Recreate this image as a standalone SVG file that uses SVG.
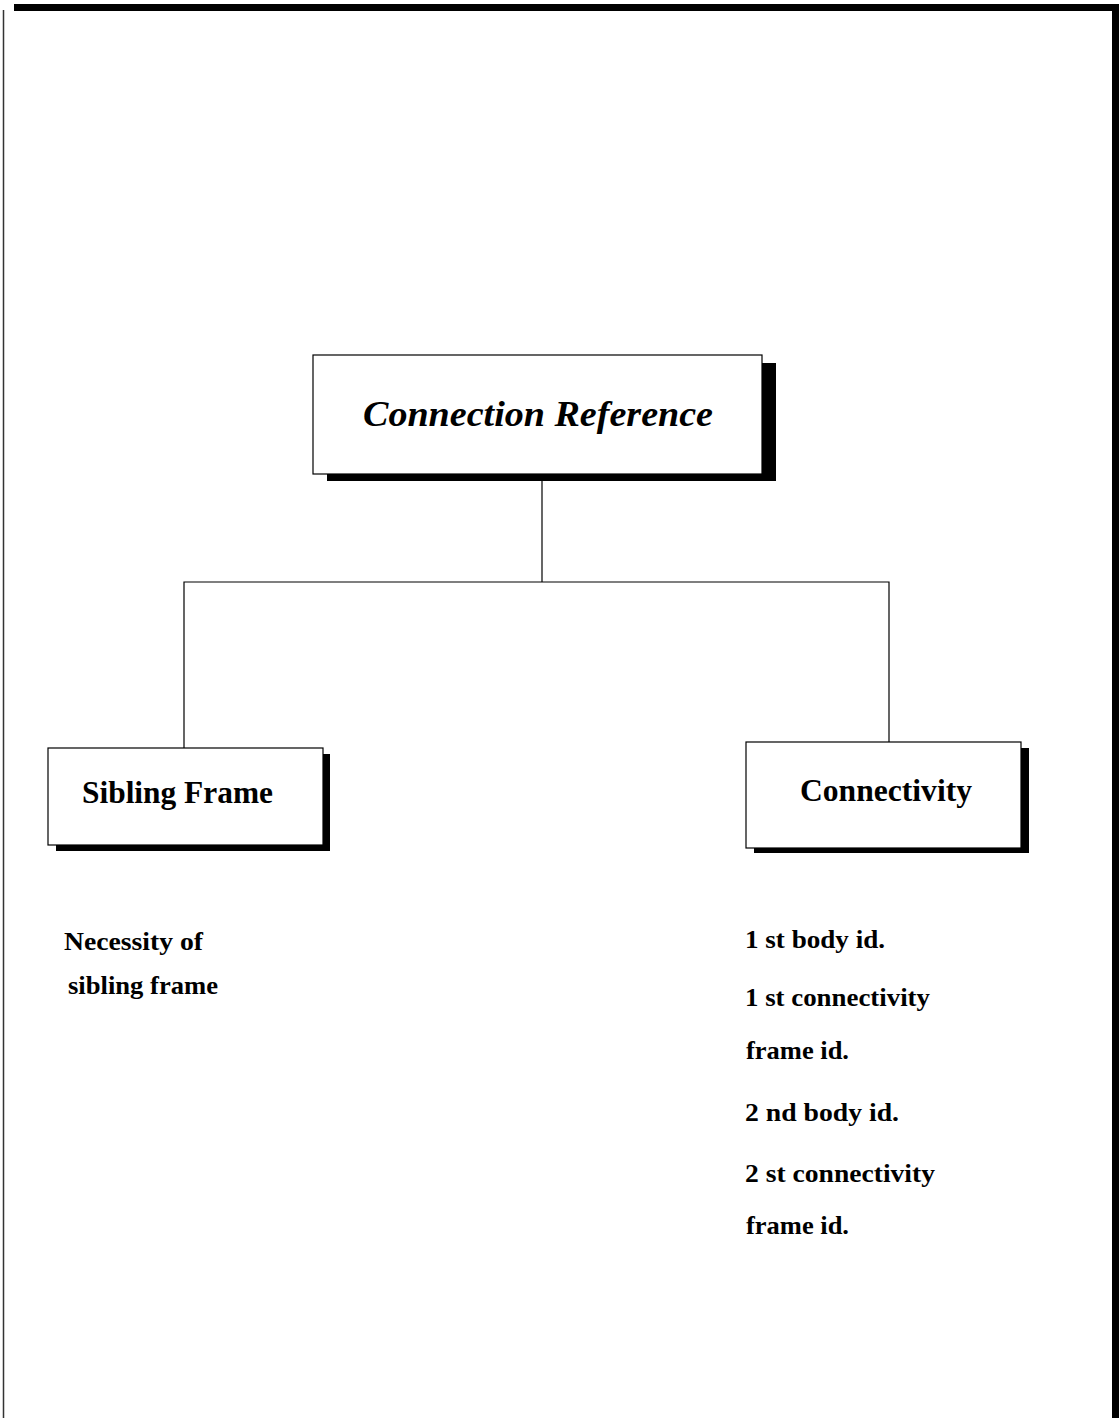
<svg xmlns="http://www.w3.org/2000/svg" width="1119" height="1418" viewBox="0 0 1119 1418">
<style>
.box{fill:#fff;stroke:#000;stroke-width:1.2}
.sh{fill:#000}
.t{font-family:"Liberation Serif","Times New Roman",serif;fill:#000;font-weight:bold}
.lbl{font-size:31px}
.note{font-size:25.5px}
.conn{stroke:#000;stroke-width:1.2;fill:none}
</style>
<rect width="1119" height="1418" fill="#fff"/>
<g id="page">
<rect x="14" y="4" width="1105" height="7" fill="#000"/>
<rect x="1112" y="4" width="7" height="1414" fill="#000"/>
<line x1="3.5" y1="10" x2="3.5" y2="1418" stroke="#333" stroke-width="1.5"/>
</g>
<g id="connectors">
<polyline class="conn" points="542,474 542,582"/>
<polyline class="conn" points="184,748 184,582 889,582 889,742"/>
</g>
<g id="root">
<rect class="sh" x="327" y="363" width="449" height="118"/>
<rect class="box" x="313" y="355" width="449" height="119"/>
<text class="t" x="363" y="426" font-style="italic" style="font-size:36px" textLength="350" lengthAdjust="spacingAndGlyphs">Connection Reference</text>
</g>
<g id="sibling">
<rect class="sh" x="56" y="754" width="274" height="97"/>
<rect class="box" x="48" y="748" width="275" height="97"/>
<text class="t lbl" x="82" y="803" textLength="191" lengthAdjust="spacingAndGlyphs">Sibling Frame</text>
</g>
<g id="connectivity">
<rect class="sh" x="754" y="748" width="275" height="105"/>
<rect class="box" x="746" y="742" width="275" height="106"/>
<text class="t lbl" x="800" y="801" textLength="172" lengthAdjust="spacingAndGlyphs">Connectivity</text>
</g>
<g id="sibling-notes">
<text class="t note" x="64" y="950" textLength="139" lengthAdjust="spacingAndGlyphs">Necessity of</text>
<text class="t note" x="68" y="994" textLength="150" lengthAdjust="spacingAndGlyphs">sibling frame</text>
</g>
<g id="connectivity-notes">
<text class="t note" x="745" y="948" textLength="140" lengthAdjust="spacingAndGlyphs">1 st body id.</text>
<text class="t note" x="745" y="1006" textLength="185" lengthAdjust="spacingAndGlyphs">1 st connectivity</text>
<text class="t note" x="746" y="1059" textLength="103" lengthAdjust="spacingAndGlyphs">frame id.</text>
<text class="t note" x="745" y="1121" textLength="154" lengthAdjust="spacingAndGlyphs">2 nd body id.</text>
<text class="t note" x="745" y="1182" textLength="190" lengthAdjust="spacingAndGlyphs">2 st connectivity</text>
<text class="t note" x="746" y="1234" textLength="103" lengthAdjust="spacingAndGlyphs">frame id.</text>
</g>
</svg>
